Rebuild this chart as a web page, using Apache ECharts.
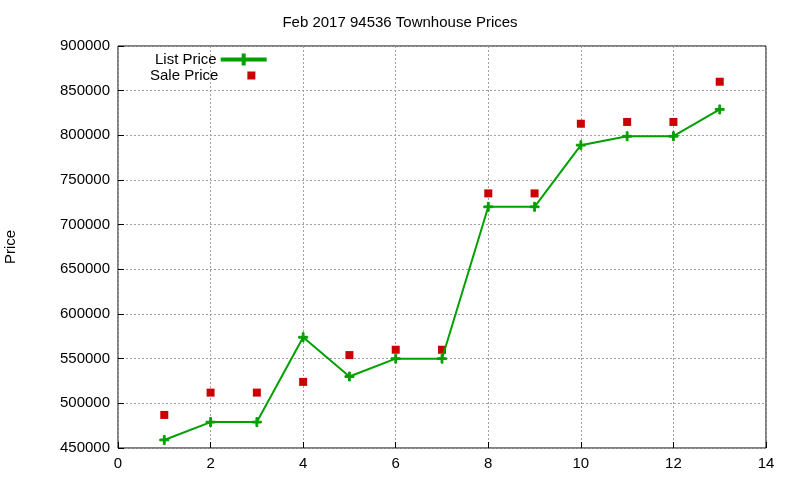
<!DOCTYPE html>
<html><head><meta charset="utf-8">
<script src="https://cdn.jsdelivr.net/npm/echarts@6/dist/echarts.min.js"></script>
<style>html,body{margin:0;padding:0;background:#fff}#c{width:800px;height:480px}</style>
</head><body><div id="c"></div>
<script>
const xs = [1,2,3,4,5,6,7,8,9,10,11,12,13];
const listPrice = [459000,479000,479000,574000,530000,550000,550000,720000,720000,789000,799000,799000,829000];
const salePrice = [487000,512000,512000,524000,554000,560000,560000,735000,735000,813000,815000,815000,860000];
const title = 'Feb 2017 94536 Townhouse Prices';
const font = 'Liberation Sans, Arial, sans-serif';
const chart = echarts.init(document.getElementById('c'));
const gridLine = {show:true,lineStyle:{color:'#a0a0a0',type:[2,2],width:1}};
const lt = {fontFamily:font,fontSize:15,color:'#000'};
chart.setOption({
  animation:false,
  title:{text:title,left:'center',top:10,textStyle:{fontFamily:font,fontSize:15,fontWeight:'normal',color:'#000'}},
  grid:{left:118,right:34,top:46,bottom:32,show:true,borderColor:'#000',borderWidth:1,outerBoundsMode:'none'},
  legend:[
    {left:150,top:47,align:'right',itemWidth:44,itemHeight:10,textStyle:lt,
     data:[{name:'List Price',icon:'path://M0,4h44v2h-44z M21,0h2v10h-2z'}]},
    {left:145,top:63,align:'right',itemWidth:8,itemHeight:8,textStyle:Object.assign({padding:[0,24,0,0]},lt),
     data:[{name:'Sale Price',icon:'rect'}]}
  ],
  xAxis:{type:'value',min:0,max:14,interval:2,axisLine:{show:false},axisTick:{inside:true,length:6,lineStyle:{color:'#000'}},
    axisLabel:{fontFamily:font,fontSize:15,color:'#000'},splitLine:gridLine},
  yAxis:{type:'value',min:450000,max:900000,interval:50000,name:'Price',nameLocation:'middle',nameGap:100,
    nameTextStyle:{fontFamily:font,fontSize:15,color:'#000'},axisLine:{show:false},
    axisTick:{show:true,inside:true,length:6,lineStyle:{color:'#000'}},
    axisLabel:{fontFamily:font,fontSize:15,color:'#000',formatter:v=>String(v)},splitLine:gridLine},
  series:[
    {name:'List Price',type:'line',data:xs.map((x,i)=>[x,listPrice[i]]),
     lineStyle:{color:'#00a000',width:2},itemStyle:{color:'#00a000',borderColor:'#00a000',borderWidth:1},
     symbol:'path://M0,4h10v2h-10z M4,0h2v10h-2z',symbolSize:9,showAllSymbol:true},
    {name:'Sale Price',type:'scatter',data:xs.map((x,i)=>[x,salePrice[i]]),
     symbol:'rect',symbolSize:8,itemStyle:{color:'#cc0000',opacity:1}}
  ]
});
</script></body></html>
